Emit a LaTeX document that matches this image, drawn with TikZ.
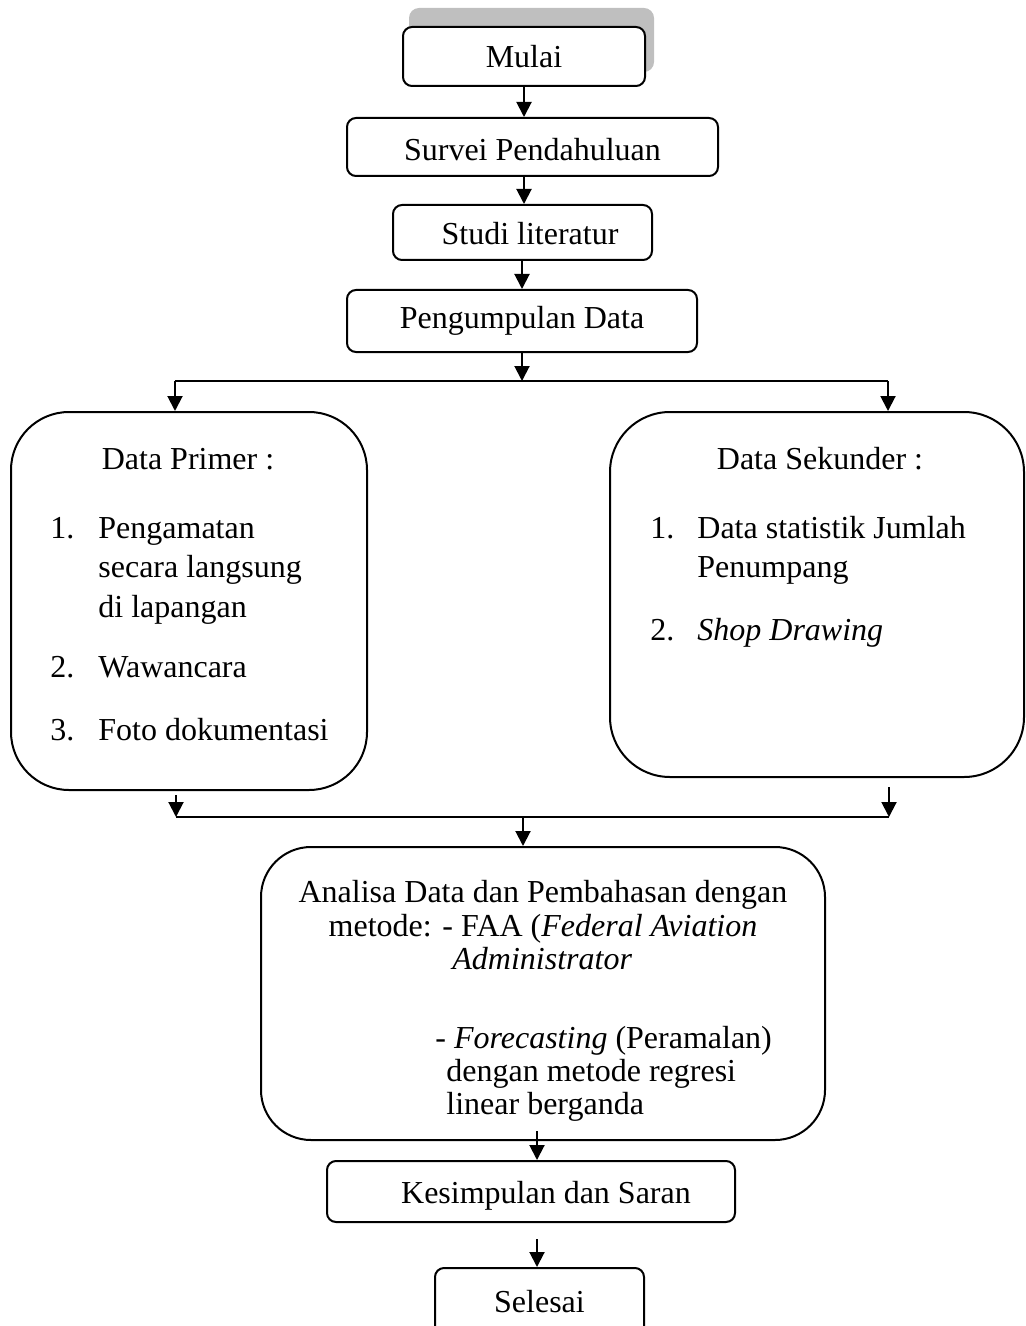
\documentclass[tikz,border=0pt]{standalone}
\usepackage{fontspec}
\setmainfont{Liberation Serif}
\usetikzlibrary{arrows.meta}
\begin{document}
\begin{tikzpicture}[x=0.5pt,y=-0.5pt,
  every node/.style={font=\fontsize{16}{20}\selectfont, inner sep=0pt},
  box/.style={draw, line width=1pt, rounded corners=4.5pt, fill=white},
  bigbox/.style={draw, line width=1pt, rounded corners=29pt},
  txt/.style={anchor=base west},
  ctxt/.style={anchor=base},
  arr/.style={line width=1pt, -{Triangle[width=7.5pt,length=7.5pt]}},
  ln/.style={line width=1pt}]
\useasboundingbox (0,0) rectangle (1026,1326);
\clip (0,0) rectangle (1026,1326);

% shadow of the start box
\node[fill=black!25, rounded corners=5pt, minimum width=122.5pt, minimum height=32pt] (shadow) at (531.5,40) {};

% small boxes
\node[box, minimum width=121pt, minimum height=29.5pt] (mulai) at (524,56.5) {Mulai};
\node[box, minimum width=185.5pt, minimum height=29pt, text height=13.8pt, text depth=0pt] (survei) at (532.5,147) {Survei Pendahuluan};
\node[box, minimum width=129.5pt, minimum height=27.5pt, text height=12pt, text depth=0pt] (studi) at (522.5,232.5) {\hspace*{7.5pt}Studi literatur};
\node[box, minimum width=175pt, minimum height=31pt] (kumpul) at (522,321) {Pengumpulan Data};

% big boxes
\node[bigbox, minimum width=178pt, minimum height=189pt] (primer) at (189,601) {};
\node[bigbox, minimum width=207pt, minimum height=182.5pt, rounded corners=30pt] (sekunder) at (817,594.5) {};
\node[bigbox, minimum width=282pt, minimum height=146.5pt, rounded corners=25pt] (analisa) at (543,993.5) {};

\node[box, minimum width=204pt, minimum height=30.5pt, text height=11.5pt, text depth=0pt] (simpul) at (531,1191.5) {\hspace*{15pt}Kesimpulan dan Saran};
\node[box, minimum width=104.5pt, minimum height=41pt] (selesai) at (539.5,1309) {};
\node[ctxt] (selesaiT) at (539.5,1312) {Selesai};

% Data Primer text
\node[ctxt] (pT) at (188,469) {Data Primer :};
\node[txt] (p1n) at (50,538) {1.};
\node[txt] (p1a) at (98,538) {Pengamatan};
\node[txt] (p1b) at (98,577) {secara langsung};
\node[txt] (p1c) at (98,617) {di lapangan};
\node[txt] (p2n) at (50,677) {2.};
\node[txt] (p2a) at (98,677) {Wawancara};
\node[txt] (p3n) at (50,740) {3.};
\node[txt] (p3a) at (98,740) {Foto dokumentasi};

% Data Sekunder text
\node[ctxt] (sT) at (820,469) {Data Sekunder :};
\node[txt] (s1n) at (650,538) {1.};
\node[txt] (s1a) at (697,538) {Data statistik Jumlah};
\node[txt] (s1b) at (697,577) {Penumpang};
\node[txt] (s2n) at (650,640) {2.};
\node[txt] (s2a) at (697,640) {\textit{Shop Drawing}};

% Analisa text
\node[ctxt] (a1) at (543,902) {Analisa Data dan Pembahasan dengan};
\node[ctxt] (a2) at (543,936) {metode: - FAA (\textit{Federal Aviation}};
\node[txt] (a3) at (452,969) {\textit{Administrator}};
\node[txt] (a4) at (435,1048) {- \textit{Forecasting} (Peramalan)};
\node[txt] (a5) at (446,1081) {dengan metode regresi};
\node[txt] (a6) at (446,1114) {linear berganda};

% connector points
\coordinate (sl) at (175,381);
\coordinate (sr) at (888,381);
\coordinate (jl) at (176,817);
\coordinate (jr) at (889,817);
\coordinate (pl) at (176,795);
\coordinate (pr) at (889,787);
\coordinate (jm) at (523,817);
\coordinate (aout) at (537,1131);
\coordinate (kout) at (537,1239);

% connectors
\draw[arr] (mulai.south) -- (mulai.south |- survei.north);
\draw[arr] (survei.south -| mulai.south) -- (mulai.south |- studi.north);
\draw[arr] (studi.south -| kumpul.south) -- (kumpul.north);
\draw[arr] (kumpul.south) -- (kumpul.south |- sl);
\draw[ln] (sl) -- (sr);
\draw[arr] (sl) -- (sl |- primer.north);
\draw[arr] (sr) -- (sr |- sekunder.north);
\draw[arr] (pl) -- (jl);
\draw[arr] (pr) -- (jr);
\draw[ln] (jl) -- (jr);
\draw[arr] (jm) -- (jm |- analisa.north);
\draw[arr] (aout) -- (aout |- simpul.north);
\draw[arr] (kout) -- (kout |- selesai.north);
\end{tikzpicture}
\end{document}
